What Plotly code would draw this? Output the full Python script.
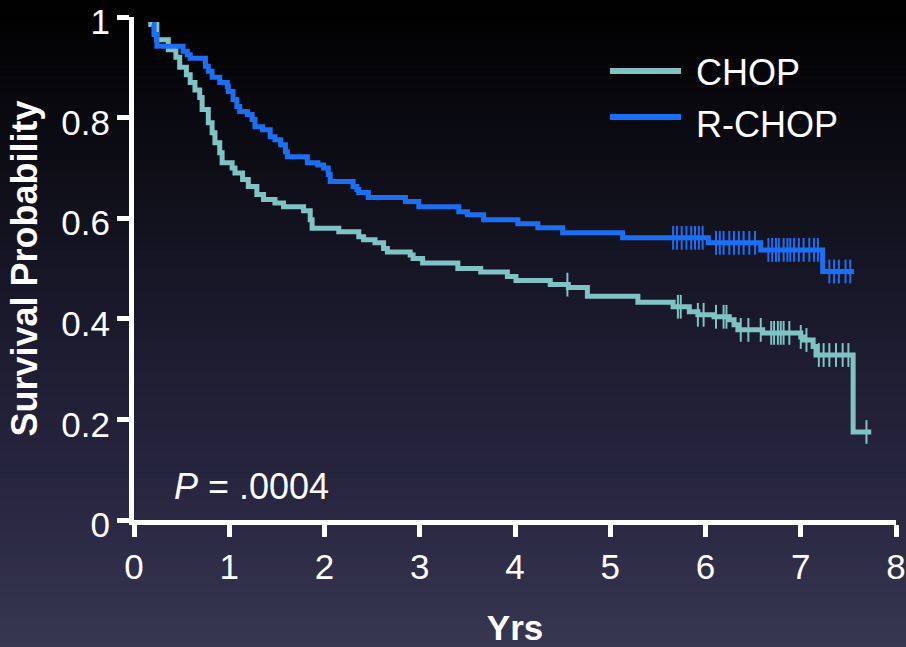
import plotly.graph_objects as go

# ---------------- data ----------------
chop_t = [0.15, 0.24, 0.36, 0.44, 0.48, 0.55, 0.59, 0.64, 0.69, 0.715, 0.78, 0.82, 0.85,
          0.90, 0.925, 1.03, 1.06, 1.14, 1.20, 1.29, 1.36, 1.48, 1.57, 1.78, 1.85, 1.87,
          2.15, 2.36, 2.41, 2.53, 2.62, 2.66, 2.90, 2.93, 3.03, 3.40, 3.64, 3.92, 4.01,
          4.37, 4.56, 4.76, 5.29, 5.66, 5.83, 5.92, 6.09, 6.25, 6.30, 6.34, 6.60, 7.00,
          7.03, 7.13, 7.16, 7.55, 7.74]
chop_s = [0.985, 0.955, 0.935, 0.92, 0.90, 0.885, 0.87, 0.855, 0.84, 0.816, 0.79, 0.77, 0.75,
          0.73, 0.71, 0.70, 0.69, 0.677, 0.663, 0.647, 0.637, 0.630, 0.623, 0.615, 0.597, 0.580,
          0.573, 0.563, 0.557, 0.551, 0.540, 0.533, 0.527, 0.520, 0.511, 0.500, 0.493, 0.484, 0.476,
          0.468, 0.462, 0.445, 0.433, 0.424, 0.414, 0.408, 0.404, 0.398, 0.388, 0.378, 0.372, 0.364,
          0.358, 0.345, 0.328, 0.175, 0.175]

rchop_t = [0.19, 0.21, 0.24, 0.515, 0.56, 0.59, 0.75, 0.78, 0.82, 0.90, 0.98, 0.99, 1.04,
           1.08, 1.11, 1.19, 1.24, 1.27, 1.35, 1.43, 1.48, 1.54, 1.59, 1.61, 1.82, 1.93, 1.99,
           2.04, 2.06, 2.30, 2.34, 2.36, 2.46, 2.85, 2.99, 3.41, 3.50, 3.67, 4.03, 4.24, 4.50,
           5.13, 6.03, 6.58, 7.23, 7.56]
rchop_s = [0.985, 0.965, 0.942, 0.932, 0.925, 0.918, 0.902, 0.892, 0.880, 0.870, 0.862, 0.852, 0.836,
           0.822, 0.812, 0.806, 0.796, 0.782, 0.776, 0.762, 0.756, 0.746, 0.732, 0.722, 0.710, 0.706, 0.700,
           0.687, 0.673, 0.663, 0.657, 0.651, 0.641, 0.633, 0.623, 0.613, 0.607, 0.597, 0.589, 0.581, 0.571,
           0.561, 0.551, 0.537, 0.494, 0.494]

chop_cens = [4.55, 5.71, 5.74, 5.92, 5.98, 6.11, 6.19, 6.22, 6.37, 6.45, 6.58, 6.69, 6.72,
             6.76, 6.79, 6.82, 6.88, 7.00, 7.06, 7.19, 7.24, 7.30, 7.37, 7.44, 7.50, 7.69]
rchop_cens = [5.66, 5.70, 5.75, 5.80, 5.85, 5.89, 5.93, 5.97, 6.11, 6.15, 6.19, 6.25, 6.30,
              6.35, 6.40, 6.46, 6.52, 6.66, 6.70, 6.74, 6.77, 6.82, 6.86, 6.89, 6.93, 6.98,
              7.03, 7.09, 7.14, 7.18, 7.30, 7.35, 7.40, 7.47, 7.52]

series_names = ["CHOP", "R-CHOP"]
y_ticks = [0, 0.2, 0.4, 0.6, 0.8, 1]
y_tick_labels = ["0", "0.2", "0.4", "0.6", "0.8", "1"]
x_ticks = [0, 1, 2, 3, 4, 5, 6, 7, 8]
p_text = "<i>P</i> = .0004"

# ---------------- style ----------------
C_CHOP = "#7fc3c5"
C_RCHOP = "#1c6ff2"
FONT = "Liberation Sans, Arial, Helvetica, sans-serif"
W, H = 906, 647
ML, MR, MT, MB = 134, 10, 17, 127


def step_at(ts, ss, t):
    val = ss[0]
    for ti, si in zip(ts, ss):
        if ti <= t:
            val = si
    return val


fig = go.Figure()

for name, ts, ss, cens, col in [
    (series_names[0], chop_t, chop_s, chop_cens, C_CHOP),
    (series_names[1], rchop_t, rchop_s, rchop_cens, C_RCHOP),
]:
    fig.add_trace(go.Scatter(x=ts, y=ss, mode="lines", line=dict(color=col, width=5, shape="hv"),
                             name=name, showlegend=False))
    fig.add_trace(go.Scatter(x=cens, y=[step_at(ts, ss, c) for c in cens], mode="markers",
                             marker=dict(symbol="line-ns", size=17, line=dict(color=col, width=2)),
                             name=name + " censored", showlegend=False, cliponaxis=False))

# background gradient (paper coordinates relative to plot area)
pw, ph = W - ML - MR, H - MT - MB
stops = [(0.0, (0, 0, 0)), (0.5, (27, 26, 45)), (0.8, (42, 40, 67)), (1.0, (56, 55, 81))]


def grad(f):
    for (f0, c0), (f1, c1) in zip(stops[:-1], stops[1:]):
        if f0 <= f <= f1:
            k = (f - f0) / (f1 - f0)
            return "rgb(%d,%d,%d)" % tuple(round(a + (b - a) * k) for a, b in zip(c0, c1))
    return "rgb(%d,%d,%d)" % stops[-1][1]


nb = 130
for i in range(nb):
    top_px = H * i / nb
    bot_px = H * (i + 1) / nb + 0.8
    fig.add_shape(type="rect", xref="paper", yref="paper", layer="below",
                  x0=-ML / pw - 0.01, x1=1 + MR / pw + 0.01,
                  y0=(H - MB - bot_px) / ph, y1=(H - MB - top_px) / ph,
                  line=dict(width=0), fillcolor=grad((i + 0.5) / nb))

# custom legend
leg_items = [(series_names[0], C_CHOP, 71, 73), (series_names[1], C_RCHOP, 117, 124)]
for name, col, ly, ty in leg_items:
    fig.add_shape(type="line", xref="paper", yref="paper",
                  x0=(610 - ML) / pw, x1=(681 - ML) / pw,
                  y0=(H - MB - ly) / ph, y1=(H - MB - ly) / ph,
                  line=dict(color=col, width=6))
    fig.add_annotation(text=name, xref="paper", yref="paper", x=(694 - ML) / pw,
                       y=(H - MB - ty) / ph, xanchor="left", yanchor="middle", showarrow=False,
                       font=dict(family=FONT, size=36, color="white"))

fig.add_annotation(text=p_text, xref="paper", yref="paper", x=(172 - ML) / pw,
                   y=(H - MB - 487) / ph, xanchor="left", yanchor="middle", showarrow=False,
                   font=dict(family=FONT, size=36, color="white"))

axis_common = dict(showline=True, linecolor="white", linewidth=5, ticks="outside", ticklen=12,
                   tickwidth=5, tickcolor="white", showgrid=False, zeroline=False,
                   ticklabeloverflow="allow", automargin=False,
                   tickfont=dict(family=FONT, size=35, color="white"))

fig.update_xaxes(range=[0, 8], tickvals=x_ticks, ticktext=[str(v) for v in x_ticks],
                 title=dict(text="Yrs", standoff=40,
                            font=dict(family=FONT, size=35, color="white", weight="bold")),
                 **axis_common)
fig.update_yaxes(range=[0, 1], tickvals=y_ticks, ticktext=y_tick_labels, ticklabelshift=5,
                 title=dict(text="Survival Probability", standoff=14,
                            font=dict(family=FONT, size=36, color="white", weight="bold")),
                 **axis_common)

fig.update_layout(width=W, height=H, margin=dict(l=ML, r=MR, t=MT, b=MB, pad=0, autoexpand=False),
                  paper_bgcolor="#000000", plot_bgcolor="rgba(0,0,0,0)", showlegend=False,
                  font=dict(family=FONT, color="white"))

fig.write_html("out.html", config={"displayModeBar": False},
               post_script="document.body.style.margin='0';document.body.style.padding='0';"
                           "document.body.style.background='#000';")
